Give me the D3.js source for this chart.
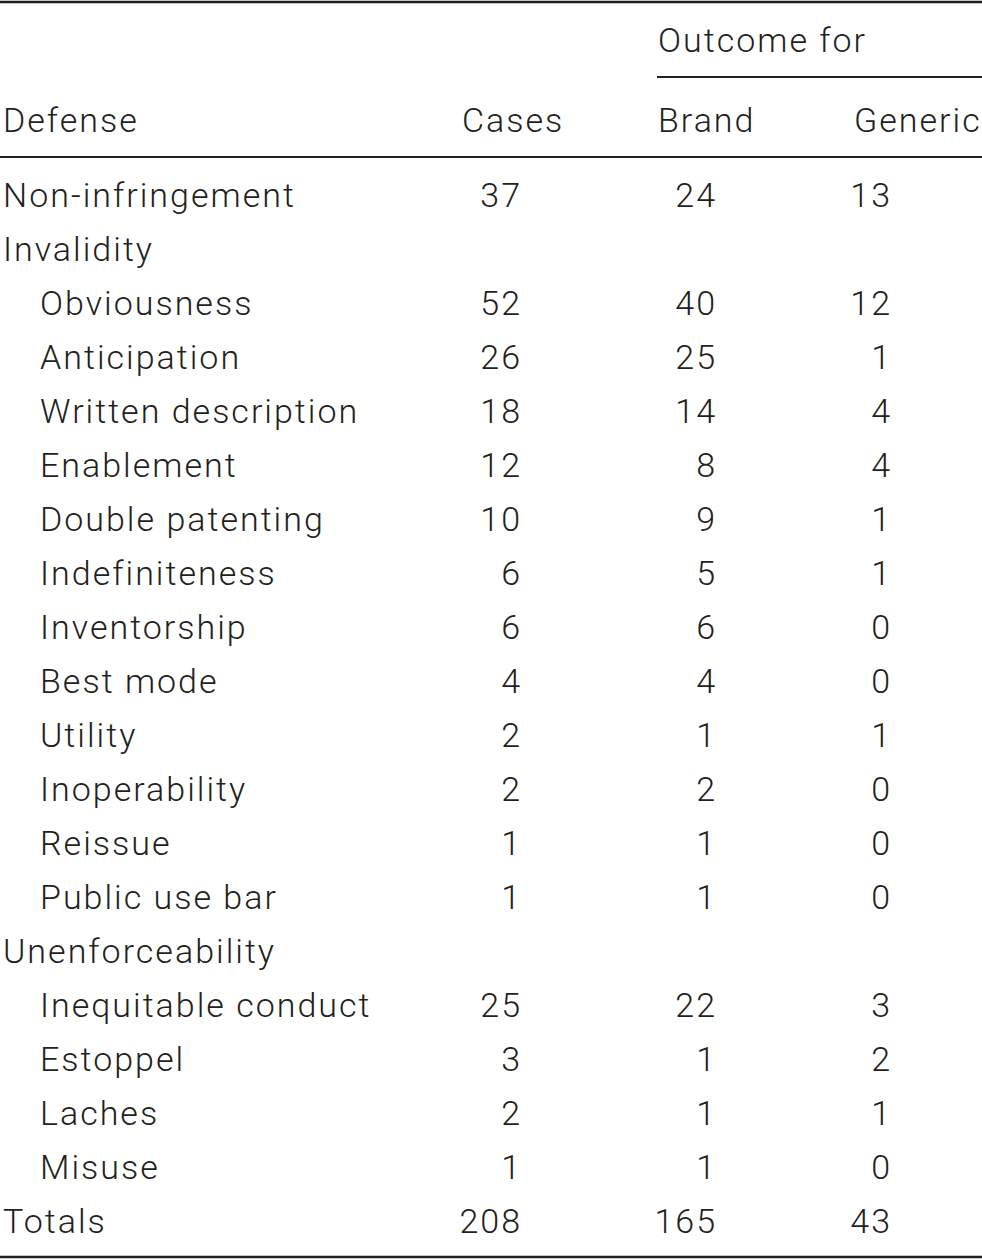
<!DOCTYPE html>
<html>
<head>
<meta charset="utf-8">
<script src="https://cdn.jsdelivr.net/npm/d3@7"></script>
<style>
  html, body { margin: 0; padding: 0; background: #fff; }
  svg { display: block; }
</style>
</head>
<body>
<div id="table"></div>
<script>
(function() {
  // rows of the table
  const defenses = [
    "Non-infringement", "Invalidity", "Obviousness", "Anticipation",
    "Written description", "Enablement", "Double patenting", "Indefiniteness",
    "Inventorship", "Best mode", "Utility", "Inoperability", "Reissue",
    "Public use bar", "Unenforceability", "Inequitable conduct", "Estoppel",
    "Laches", "Misuse", "Totals"
  ];
  const levels = [0, 0, 1, 1, 1, 1, 1, 1, 1, 1, 1, 1, 1, 1, 0, 1, 1, 1, 1, 0];
  const cases = [37, null, 52, 26, 18, 12, 10, 6, 6, 4, 2, 2, 1, 1, null, 25, 3, 2, 1, 208];
  const brand = [24, null, 40, 25, 14, 8, 9, 5, 6, 4, 1, 2, 1, 1, null, 22, 1, 1, 1, 165];
  const generic = [13, null, 12, 1, 4, 4, 1, 1, 0, 0, 1, 0, 0, 0, null, 3, 2, 1, 0, 43];
  const headers = ["Defense", "Cases", "Brand", "Generic"];
  const spanner = "Outcome for";

  const FONT = "Roboto, 'DejaVu Sans', sans-serif";
  const FONTSIZE = 34;
  const TRACKING = 2;
  const INK = "#231f20";

  const width = 982;
  const height = 1260;

  const svg = d3.select("#table").append("svg")
    .attr("width", width)
    .attr("height", height);

  // baseline of each body row
  const y = d3.scaleLinear()
    .domain([0, defenses.length - 1])
    .range([207, 1233]);

  // right edges of numeric columns, left edges of their headers
  const colRight = d3.scaleOrdinal()
    .domain(["cases", "brand", "generic"])
    .range([520, 715, 890]);
  const headLeft = d3.scaleOrdinal()
    .domain(headers)
    .range([3, 462, 658, 854]);
  const indent = d3.scaleOrdinal().domain([0, 1]).range([3, 40]);

  const text = (g) => g
    .style("font-family", FONT)
    .style("font-size", FONTSIZE + "px")
    .style("font-weight", 300)
    .style("letter-spacing", TRACKING + "px")
    .attr("fill", INK);

  // rules
  const rules = [
    { x1: 0, x2: width, y: 2, w: 2.4 },
    { x1: 657, x2: width, y: 77, w: 2 },
    { x1: 0, x2: width, y: 157, w: 2 },
    { x1: 0, x2: width, y: 1257, w: 2.4 }
  ];
  svg.append("g").selectAll("line")
    .data(rules)
    .join("line")
    .attr("x1", d => d.x1)
    .attr("x2", d => d.x2)
    .attr("y1", d => d.y)
    .attr("y2", d => d.y)
    .attr("stroke", INK)
    .attr("stroke-width", d => d.w);

  // header
  const head = svg.append("g").call(text);
  head.append("text")
    .attr("x", headLeft("Brand"))
    .attr("y", 52)
    .text(spanner);
  head.selectAll("text.col")
    .data(headers)
    .join("text")
    .attr("class", "col")
    .attr("x", d => headLeft(d))
    .attr("y", 132)
    .text(d => d);

  // body
  const body = svg.append("g").call(text);
  body.selectAll("text.label")
    .data(defenses)
    .join("text")
    .attr("class", "label")
    .attr("x", (d, i) => indent(levels[i]))
    .attr("y", (d, i) => y(i))
    .text(d => d);

  // trailing tracking is part of the advance, so nudge right-aligned numbers
  const cols = { cases, brand, generic };
  Object.keys(cols).forEach(key => {
    body.selectAll("text." + key)
      .data(cols[key])
      .join("text")
      .attr("class", key)
      .attr("x", colRight(key) + TRACKING)
      .attr("y", (d, i) => y(i))
      .attr("text-anchor", "end")
      .text(d => (d === null ? "" : d));
  });
})();
</script>
</body>
</html>
